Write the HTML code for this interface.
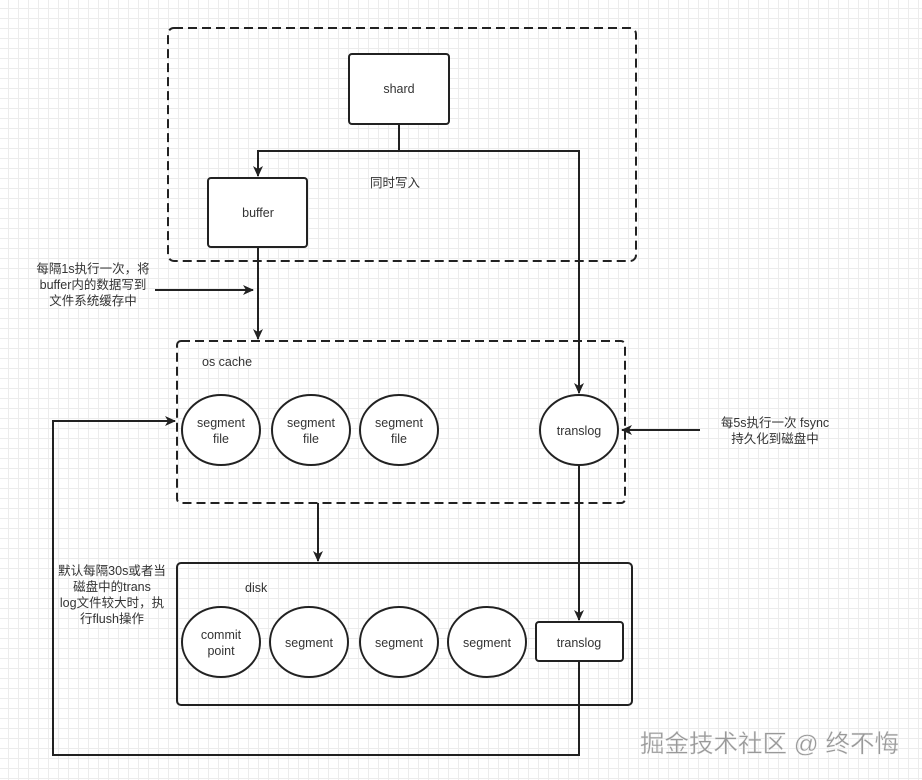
<!DOCTYPE html>
<html><head><meta charset="utf-8"><style>
body{margin:0;width:922px;height:780px;overflow:hidden;background:#fff;
background-image:linear-gradient(#ececec 1px,transparent 1px),linear-gradient(90deg,#ececec 1px,transparent 1px);background-size:10px 10px;background-position:-2px -2px}
svg{position:absolute;left:0;top:0}
text{font-family:"Liberation Sans","Noto Sans CJK SC",sans-serif;font-size:12.5px;fill:#333}
</style></head><body>
<svg width="922" height="780">
<defs><marker id="a" markerWidth="12" markerHeight="12" refX="10" refY="6" orient="auto" markerUnits="userSpaceOnUse"><path d="M0,1 L11,6 L0,11 L3,6 Z" fill="#222"/></marker></defs>
<g stroke="#222" stroke-width="2" fill="#fff">
<rect x="168" y="28" width="468" height="233" rx="6" stroke-dasharray="9 5" fill="none"/>
<rect x="349" y="54" width="100" height="70" rx="3"/>
<rect x="208" y="178" width="99" height="69" rx="3"/>
<rect x="177" y="341" width="448" height="162" rx="4" stroke-dasharray="9 5" fill="none"/>
<rect x="177" y="563" width="455" height="142" rx="4" fill="none"/>
<ellipse cx="221" cy="430" rx="39" ry="35"/>
<ellipse cx="311" cy="430" rx="39" ry="35"/>
<ellipse cx="399" cy="430" rx="39" ry="35"/>
<ellipse cx="579" cy="430" rx="39" ry="35"/>
<ellipse cx="221" cy="642" rx="39" ry="35"/>
<ellipse cx="309" cy="642" rx="39" ry="35"/>
<ellipse cx="399" cy="642" rx="39" ry="35"/>
<ellipse cx="487" cy="642" rx="39" ry="35"/>
<rect x="536" y="622" width="87" height="39" rx="3"/>
</g>
<g stroke="#222" stroke-width="2" fill="none">
<path d="M399,124 V151 H258 V176" marker-end="url(#a)"/>
<path d="M399,151 H579 V393" marker-end="url(#a)"/>
<path d="M258,247 V339" marker-end="url(#a)"/>
<path d="M155,290 H253" marker-end="url(#a)"/>
<path d="M700,430 H622" marker-end="url(#a)"/>
<path d="M318,503 V561" marker-end="url(#a)"/>
<path d="M579,465 V620" marker-end="url(#a)"/>
<path d="M579,661 V755 H53 V421 H175" marker-end="url(#a)"/>
</g>
<g text-anchor="middle">
<text x="399" y="93">shard</text>
<text x="258" y="217">buffer</text>
<text x="395" y="187">同时写入</text>
<text x="221" y="427">segment</text><text x="221" y="443">file</text>
<text x="311" y="427">segment</text><text x="311" y="443">file</text>
<text x="399" y="427">segment</text><text x="399" y="443">file</text>
<text x="579" y="435">translog</text>
<text x="221" y="639">commit</text><text x="221" y="655">point</text>
<text x="309" y="647">segment</text>
<text x="399" y="647">segment</text>
<text x="487" y="647">segment</text>
<text x="579" y="647">translog</text>
<text x="93" y="273">每隔1s执行一次，将</text>
<text x="93" y="289">buffer内的数据写到</text>
<text x="93" y="305">文件系统缓存中</text>
<text x="775" y="427">每5s执行一次 fsync</text>
<text x="775" y="443">持久化到磁盘中</text>
<text x="112" y="575">默认每隔30s或者当</text>
<text x="112" y="591">磁盘中的trans</text>
<text x="112" y="607">log文件较大时，执</text>
<text x="112" y="623">行flush操作</text>
</g>
<text x="202" y="366">os cache</text>
<text x="245" y="592">disk</text>
<text x="640" y="752" style="font-size:24.5px;fill:#999;stroke:#eee;stroke-width:0.4">掘金技术社区 @ 终不悔</text>
</svg>
</body></html>
